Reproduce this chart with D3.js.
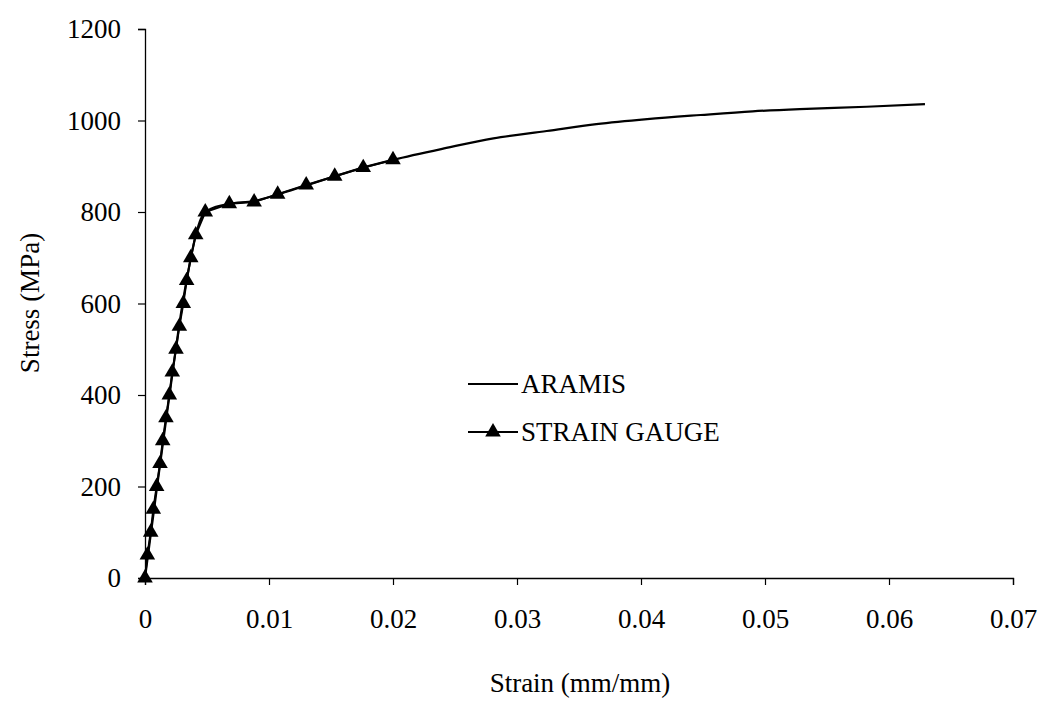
<!DOCTYPE html>
<html>
<head>
<meta charset="utf-8">
<script src="https://cdn.jsdelivr.net/npm/d3@7"></script>
<style>
  body { margin: 0; background: #fff; }
  svg text { font-family: "Times New Roman", "Liberation Serif", "DejaVu Serif", serif !important; fill: #000; }
</style>
</head>
<body>
<svg id="chart" width="1044" height="702"></svg>
<script>
// ARAMIS curve (strain mm/mm, stress MPa)
const aramisStrain = [0, 0.0010, 0.0020, 0.0030, 0.0037, 0.0041, 0.0045, 0.0049, 0.0058, 0.0068, 0.0088,
  0.0107, 0.0130, 0.0153, 0.0176, 0.0200, 0.0243, 0.0281, 0.0324, 0.0364, 0.0405, 0.0448, 0.0490, 0.0528, 0.0582, 0.0629];
const aramisStress = [0, 205, 405, 595, 700, 750, 785, 800, 812, 818, 824,
  838, 858, 878, 897, 914, 940, 961, 977, 992, 1003, 1012, 1020, 1025, 1030, 1036];

// Strain gauge readings
const gaugeStrain = [0, 0.00019, 0.00046, 0.00067, 0.00094, 0.00121, 0.00143, 0.00169, 0.00196, 0.00220,
  0.00250, 0.00277, 0.00309, 0.00336, 0.00369, 0.00409, 0.00486, 0.0068, 0.0088, 0.0107, 0.0130, 0.0153, 0.0176, 0.0200];
const gaugeStress = [0, 50, 100, 150, 200, 250, 300, 350, 400, 450,
  500, 550, 600, 650, 700, 750, 800, 818, 822, 839, 859, 878, 897, 914];

const xTicks = [0, 0.01, 0.02, 0.03, 0.04, 0.05, 0.06, 0.07];
const yTicks = [0, 200, 400, 600, 800, 1000, 1200];
const legendLabels = ["ARAMIS", "STRAIN GAUGE"];

const svg = d3.select("#chart");
const margin = { left: 145, top: 29, right: 1013, bottom: 578 };

const x = d3.scaleLinear().domain([0, 0.07]).range([margin.left, margin.right]);
const y = d3.scaleLinear().domain([0, 1200]).range([margin.bottom, margin.top]);

// axes
const xAxis = svg.append("g")
  .attr("transform", `translate(0,${margin.bottom})`)
  .call(d3.axisBottom(x).tickValues(xTicks).tickFormat(d => String(+d.toFixed(2))).tickSizeOuter(0).tickSize(7).tickPadding(24));
const yAxis = svg.append("g")
  .attr("transform", `translate(${margin.left},0)`)
  .call(d3.axisLeft(y).tickValues(yTicks).tickFormat(d => String(d)).tickSizeOuter(0).tickSize(7).tickPadding(17));

[xAxis, yAxis].forEach(g => {
  g.attr("font-size", 27);
  g.select(".domain").attr("stroke", "#000").attr("stroke-width", 1.3);
  g.selectAll(".tick line").attr("stroke", "#000").attr("stroke-width", 1.2);
  g.selectAll(".tick text").attr("fill", "#000");
});

// titles
svg.append("text")
  .attr("x", 580).attr("y", 692)
  .attr("text-anchor", "middle")
  .style("font-size", "27px")
  .text("Strain (mm/mm)");
svg.append("text")
  .attr("transform", "translate(39,303) rotate(-90)")
  .attr("text-anchor", "middle")
  .style("font-size", "27px")
  .text("Stress (MPa)");

// ARAMIS line
svg.append("path")
  .datum(aramisStrain.map((s, i) => [s, aramisStress[i]]))
  .attr("fill", "none")
  .attr("stroke", "#000")
  .attr("stroke-width", 2.2)
  .attr("d", d3.line().x(d => x(d[0])).y(d => y(d[1])).curve(d3.curveMonotoneX));

// strain gauge line + markers
const gaugeData = gaugeStrain.map((s, i) => [s, gaugeStress[i]]);
svg.append("path")
  .datum(gaugeData)
  .attr("fill", "none")
  .attr("stroke", "#000")
  .attr("stroke-width", 2)
  .attr("d", d3.line().x(d => x(d[0])).y(d => y(d[1])));

const tri = d3.symbol().type(d3.symbolTriangle).size(105);
svg.selectAll(".marker")
  .data(gaugeData)
  .enter().append("path")
  .attr("class", "marker")
  .attr("transform", d => `translate(${x(d[0])},${y(d[1])})`)
  .attr("d", tri)
  .attr("fill", "#000");

// legend
const legend = svg.append("g").attr("transform", "translate(468,384)");
legendLabels.forEach((lab, i) => {
  const g = legend.append("g").attr("transform", `translate(0,${i * 48})`);
  g.append("line").attr("x1", 0).attr("x2", 50).attr("y1", 0).attr("y2", 0)
    .attr("stroke", "#000").attr("stroke-width", 2);
  if (i === 1) g.append("path").attr("transform", "translate(25,0)").attr("d", tri).attr("fill", "#000");
  g.append("text").attr("x", 53).attr("y", 9).style("font-size", "27px").text(lab);
});
</script>
</body>
</html>
